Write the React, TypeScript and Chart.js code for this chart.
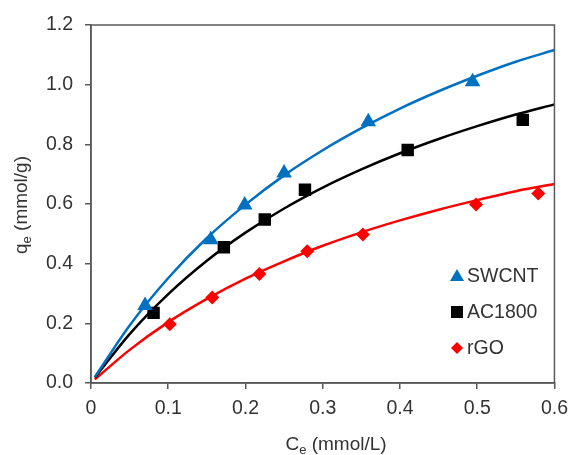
import React, { useEffect, useRef } from 'react';
import { Chart, registerables } from 'chart.js';

Chart.register(...registerables);

// Experimental points
const swcntX = [0.07, 0.155, 0.199, 0.25, 0.359, 0.494];
const swcntY = [0.26, 0.48, 0.597, 0.704, 0.876, 1.01];
const acX = [0.081, 0.172, 0.225, 0.277, 0.41, 0.559];
const acY = [0.235, 0.455, 0.548, 0.648, 0.781, 0.882];
const rgoX = [0.102, 0.157, 0.218, 0.28, 0.352, 0.4985, 0.579];
const rgoY = [0.197, 0.287, 0.365, 0.442, 0.498, 0.598, 0.635];

// Fitted curves
const curveX = [0.005, 0.05, 0.1, 0.15, 0.2, 0.25, 0.3, 0.35, 0.4, 0.45, 0.5, 0.55, 0.6];
const swcntFit = [0.02, 0.193, 0.352, 0.486, 0.598, 0.696, 0.78, 0.854, 0.92, 0.978, 1.03, 1.077, 1.116];
const acFit = [0.018, 0.164, 0.298, 0.41, 0.504, 0.585, 0.655, 0.716, 0.77, 0.818, 0.861, 0.9, 0.934];
const rgoFit = [0.012, 0.111, 0.204, 0.282, 0.35, 0.408, 0.46, 0.505, 0.545, 0.581, 0.613, 0.643, 0.667];

const seriesNames = ['SWCNT', 'AC1800', 'rGO'];
const xTicks = [0, 0.1, 0.2, 0.3, 0.4, 0.5, 0.6];
const yTicks = [0, 0.2, 0.4, 0.6, 0.8, 1.0, 1.2];

const BLUE = '#0070C0';
const BLACK = '#000000';
const RED = '#FF0000';
const AXIS = '#595959';
const TEXT = '#333333';
const FONT = '"Liberation Sans", Arial, sans-serif';

const toPts = (xs: number[], ys: number[]) => xs.map((x, i) => ({ x, y: ys[i] }));

function drawSubTitle(ctx: CanvasRenderingContext2D, main: string, sub: string, rest: string, cx: number, baseline: number) {
  const big = `19px ${FONT}`;
  const small = `13px ${FONT}`;
  ctx.font = big;
  const w1 = ctx.measureText(main).width;
  const w3 = ctx.measureText(rest).width;
  ctx.font = small;
  const w2 = ctx.measureText(sub).width;
  const total = w1 + w2 + w3;
  let x = cx - total / 2;
  ctx.textAlign = 'left';
  ctx.textBaseline = 'alphabetic';
  ctx.font = big;
  ctx.fillText(main, x, baseline);
  x += w1;
  ctx.font = small;
  ctx.fillText(sub, x, baseline + 4);
  x += w2;
  ctx.font = big;
  ctx.fillText(rest, x, baseline);
}

const decorations = {
  id: 'decorations',
  afterDraw(chart: any) {
    const { ctx, chartArea } = chart;
    ctx.save();
    // frame
    ctx.strokeStyle = AXIS;
    ctx.lineWidth = 1.5;
    ctx.strokeRect(chartArea.left, chartArea.top, chartArea.right - chartArea.left, chartArea.bottom - chartArea.top);

    // axis titles
    ctx.fillStyle = TEXT;
    drawSubTitle(ctx, 'C', 'e', ' (mmol/L)', 336, 450);
    ctx.save();
    ctx.translate(27, 205);
    ctx.rotate(-Math.PI / 2);
    drawSubTitle(ctx, 'q', 'e', ' (mmol/g)', 0, 0);
    ctx.restore();

    // legend
    const items = [
      { name: seriesNames[0], color: BLUE, shape: 'triangle', y: 276 },
      { name: seriesNames[1], color: BLACK, shape: 'square', y: 312 },
      { name: seriesNames[2], color: RED, shape: 'diamond', y: 348 },
    ];
    items.forEach((it) => {
      const mx = 457;
      ctx.fillStyle = it.color;
      ctx.beginPath();
      if (it.shape === 'triangle') {
        ctx.moveTo(mx, it.y - 7);
        ctx.lineTo(mx + 7, it.y + 5);
        ctx.lineTo(mx - 7, it.y + 5);
      } else if (it.shape === 'square') {
        ctx.rect(mx - 6, it.y - 6, 12, 12);
      } else {
        ctx.moveTo(mx, it.y - 6);
        ctx.lineTo(mx + 6, it.y);
        ctx.lineTo(mx, it.y + 6);
        ctx.lineTo(mx - 6, it.y);
      }
      ctx.closePath();
      ctx.fill();
      ctx.fillStyle = TEXT;
      ctx.font = `19.5px ${FONT}`;
      ctx.textAlign = 'left';
      ctx.textBaseline = 'middle';
      ctx.fillText(it.name, 467, it.y + 1);
    });
    ctx.restore();
  },
};

export default function App() {
  const ref = useRef<HTMLCanvasElement>(null);
  useEffect(() => {
    const canvas = ref.current;
    if (!canvas) return;
    const chart = new Chart(canvas, {
      type: 'scatter',
      data: {
        datasets: [
          {
            label: seriesNames[0],
            data: toPts(swcntX, swcntY),
            pointStyle: 'triangle',
            pointRadius: 9,
            backgroundColor: BLUE,
            borderColor: BLUE,
            borderWidth: 0,
            order: 0,
          },
          {
            label: seriesNames[1],
            data: toPts(acX, acY),
            pointStyle: 'rect',
            pointRadius: 8.8,
            backgroundColor: BLACK,
            borderColor: BLACK,
            borderWidth: 0,
            order: 0,
          },
          {
            label: seriesNames[2],
            data: toPts(rgoX, rgoY),
            pointStyle: 'rectRot',
            pointRadius: 7,
            backgroundColor: RED,
            borderColor: RED,
            borderWidth: 0,
            order: 0,
          },
          {
            label: seriesNames[0] + ' fit',
            data: toPts(curveX, swcntFit),
            showLine: true,
            pointRadius: 0,
            borderColor: BLUE,
            borderWidth: 2.5,
            cubicInterpolationMode: 'monotone',
            order: 1,
          },
          {
            label: seriesNames[1] + ' fit',
            data: toPts(curveX, acFit),
            showLine: true,
            pointRadius: 0,
            borderColor: BLACK,
            borderWidth: 2.5,
            cubicInterpolationMode: 'monotone',
            order: 1,
          },
          {
            label: seriesNames[2] + ' fit',
            data: toPts(curveX, rgoFit),
            showLine: true,
            pointRadius: 0,
            borderColor: RED,
            borderWidth: 2.5,
            cubicInterpolationMode: 'monotone',
            order: 1,
          },
        ] as any,
      },
      options: {
        responsive: false,
        animation: false,
        layout: { padding: { top: 25, right: 16, left: 0, bottom: 0 } },
        plugins: { legend: { display: false }, tooltip: { enabled: false } },
        scales: {
          x: {
            type: 'linear',
            min: xTicks[0],
            max: xTicks[xTicks.length - 1],
            afterFit: (s: any) => { s.height = 72; },
            afterBuildTicks: (s: any) => { s.ticks = xTicks.map((v) => ({ value: v })); },
            ticks: {
              callback: (v: any) => (Number(v) === 0 ? '0' : Number(v).toFixed(1)),
              font: { family: FONT, size: 19.5 },
              color: TEXT,
              padding: 8,
              maxRotation: 0,
            },
            grid: { drawOnChartArea: false, drawTicks: true, tickLength: 6, color: AXIS, lineWidth: 1.5 },
            border: { display: true, color: AXIS, width: 1.5 },
          },
          y: {
            type: 'linear',
            min: yTicks[0],
            max: yTicks[yTicks.length - 1],
            afterFit: (s: any) => { s.width = 91; },
            afterBuildTicks: (s: any) => { s.ticks = yTicks.map((v) => ({ value: v })); },
            ticks: {
              callback: (v: any) => Number(v).toFixed(1),
              font: { family: FONT, size: 19.5 },
              color: TEXT,
              padding: 12,
            },
            grid: { drawOnChartArea: false, drawTicks: true, tickLength: 6, color: AXIS, lineWidth: 1.5 },
            border: { display: true, color: AXIS, width: 1.5 },
          },
        },
      } as any,
      plugins: [decorations],
    });
    return () => chart.destroy();
  }, []);
  return (
    <div style={{ position: 'fixed', left: 0, top: 0, width: 576, height: 455, background: '#fff' }}>
      <canvas ref={ref} width={576} height={455} style={{ width: 576, height: 455, display: 'block' }} />
    </div>
  );
}
